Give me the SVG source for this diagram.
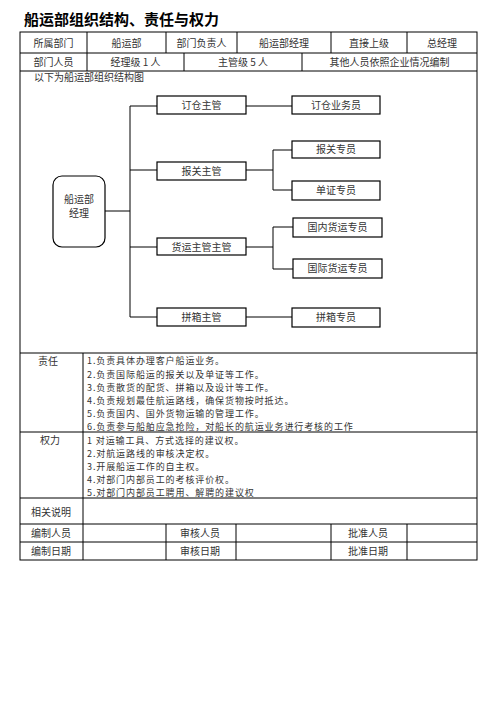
<svg xmlns="http://www.w3.org/2000/svg" width="496" height="702" viewBox="0 0 496 702">
<style>
.t{font-family:"Noto Sans CJK SC","Liberation Sans",sans-serif;font-size:10px;fill:#333}
.l{font-family:"Noto Sans CJK SC","Liberation Sans",sans-serif;font-size:9px;letter-spacing:0.9px;fill:#333}
.c{text-anchor:middle}
.title{font-family:"Noto Sans CJK SC","Liberation Sans",sans-serif;font-size:15px;font-weight:bold;fill:#000}
.ln{stroke:#000;stroke-width:1;fill:none}
.box{fill:#fff;stroke:#000;stroke-width:1.2}
</style>
<rect width="496" height="702" fill="#fff"/>
<text class="title" x="24" y="25">船运部组织结构、责任与权力</text>
<g id="table">
<rect class="ln" x="20" y="32" width="457" height="528"/>
<path class="ln" d="M20 53H477M20 71H477M20 353H477M20 432H477M20 498H477M20 524H477M20 542H477"/>
<path class="ln" d="M87 32V71M166 32V53M237 32V53M331 32V53M407 32V53M184 53V71M302 53V71"/>
<path class="ln" d="M83 353V560M166 524V560M236 524V560M331 524V560M407 524V560"/>
<text class="t c" x="53.5" y="46.5">所属部门</text>
<text class="t c" x="126.5" y="46.5">船运部</text>
<text class="t c" x="201.5" y="46.5">部门负责人</text>
<text class="t c" x="284" y="46.5">船运部经理</text>
<text class="t c" x="369" y="46.5">直接上级</text>
<text class="t c" x="442" y="46.5">总经理</text>
<text class="t c" x="53.5" y="65.5">部门人员</text>
<text class="t c" x="135.5" y="65.5">经理级 1 人</text>
<text class="t c" x="243" y="65.5">主管级 5 人</text>
<text class="t c" x="389.5" y="65.5">其他人员依照企业情况编制</text>
<text class="t" x="34" y="81">以下为船运部组织结构图</text>
<text class="t c" x="48" y="364.5">责任</text>
<text class="l" x="87" y="364">1.负责具体办理客户船运业务。</text>
<text class="l" x="87" y="377.5">2.负责国际船运的报关以及单证等工作。</text>
<text class="l" x="87" y="390.5">3.负责散货的配货、拼箱以及设计等工作。</text>
<text class="l" x="87" y="404">4.负责规划最佳航运路线，确保货物按时抵达。</text>
<text class="l" x="87" y="417">5.负责国内、国外货物运输的管理工作。</text>
<text class="l" x="87" y="430">6.负责参与船舶应急抢险，对船长的航运业务进行考核的工作</text>
<text class="t c" x="50" y="444">权力</text>
<text class="l" x="87" y="443.5">1 对运输工具、方式选择的建议权。</text>
<text class="l" x="87" y="456.5">2.对航运路线的审核决定权。</text>
<text class="l" x="87" y="469.5">3.开展船运工作的自主权。</text>
<text class="l" x="87" y="483">4.对部门内部员工的考核评价权。</text>
<text class="l" x="87" y="496">5.对部门内部员工聘用、解聘的建议权</text>
<text class="t c" x="51" y="515.5">相关说明</text>
<text class="t c" x="51" y="537">编制人员</text>
<text class="t c" x="200" y="537">审核人员</text>
<text class="t c" x="368" y="537">批准人员</text>
<text class="t c" x="51" y="554.5">编制日期</text>
<text class="t c" x="200" y="554.5">审核日期</text>
<text class="t c" x="368" y="554.5">批准日期</text>
</g>
<g id="connectors">
<path class="ln" d="M105 211H130M130 106V317M130 106H157M130 170H157M130 247H157M130 317H157"/>
<path class="ln" d="M246 106H292"/>
<path class="ln" d="M246 170H273M273 150V190M273 150H292M273 190H292"/>
<path class="ln" d="M246 247H273M273 227V269M273 227H293M273 269H293"/>
<path class="ln" d="M246 317H292"/>
</g>
<g id="manager"><rect class="box" x="53" y="176" width="52" height="71" rx="9"/><text class="t c" x="79" y="202.5">船运部</text><text class="t c" x="79" y="216.5">经理</text></g>
<g id="s1"><rect class="box" x="157" y="96" width="89" height="18"/><text class="t c" x="201.5" y="108.5">订仓主管</text></g>
<g id="s2"><rect class="box" x="157" y="162" width="89" height="18"/><text class="t c" x="201.5" y="174.5">报关主管</text></g>
<g id="s3"><rect class="box" x="157" y="238" width="89" height="17"/><text class="t c" x="201.5" y="250.5">货运主管主管</text></g>
<g id="s4"><rect class="box" x="157" y="308" width="89" height="18"/><text class="t c" x="201.5" y="320.5">拼箱主管</text></g>
<g id="e1"><rect class="box" x="292" y="96" width="88" height="18"/><text class="t c" x="336" y="108.5">订仓业务员</text></g>
<g id="e2"><rect class="box" x="292" y="141" width="88" height="17"/><text class="t c" x="336" y="153">报关专员</text></g>
<g id="e3"><rect class="box" x="292" y="181" width="88" height="19"/><text class="t c" x="336" y="194">单证专员</text></g>
<g id="e4"><rect class="box" x="293" y="218" width="89" height="19"/><text class="t c" x="337.5" y="231">国内货运专员</text></g>
<g id="e5"><rect class="box" x="293" y="259" width="89" height="19"/><text class="t c" x="337.5" y="272">国际货运专员</text></g>
<g id="e6"><rect class="box" x="292" y="308" width="88" height="19"/><text class="t c" x="336" y="321">拼箱专员</text></g>
</svg>
